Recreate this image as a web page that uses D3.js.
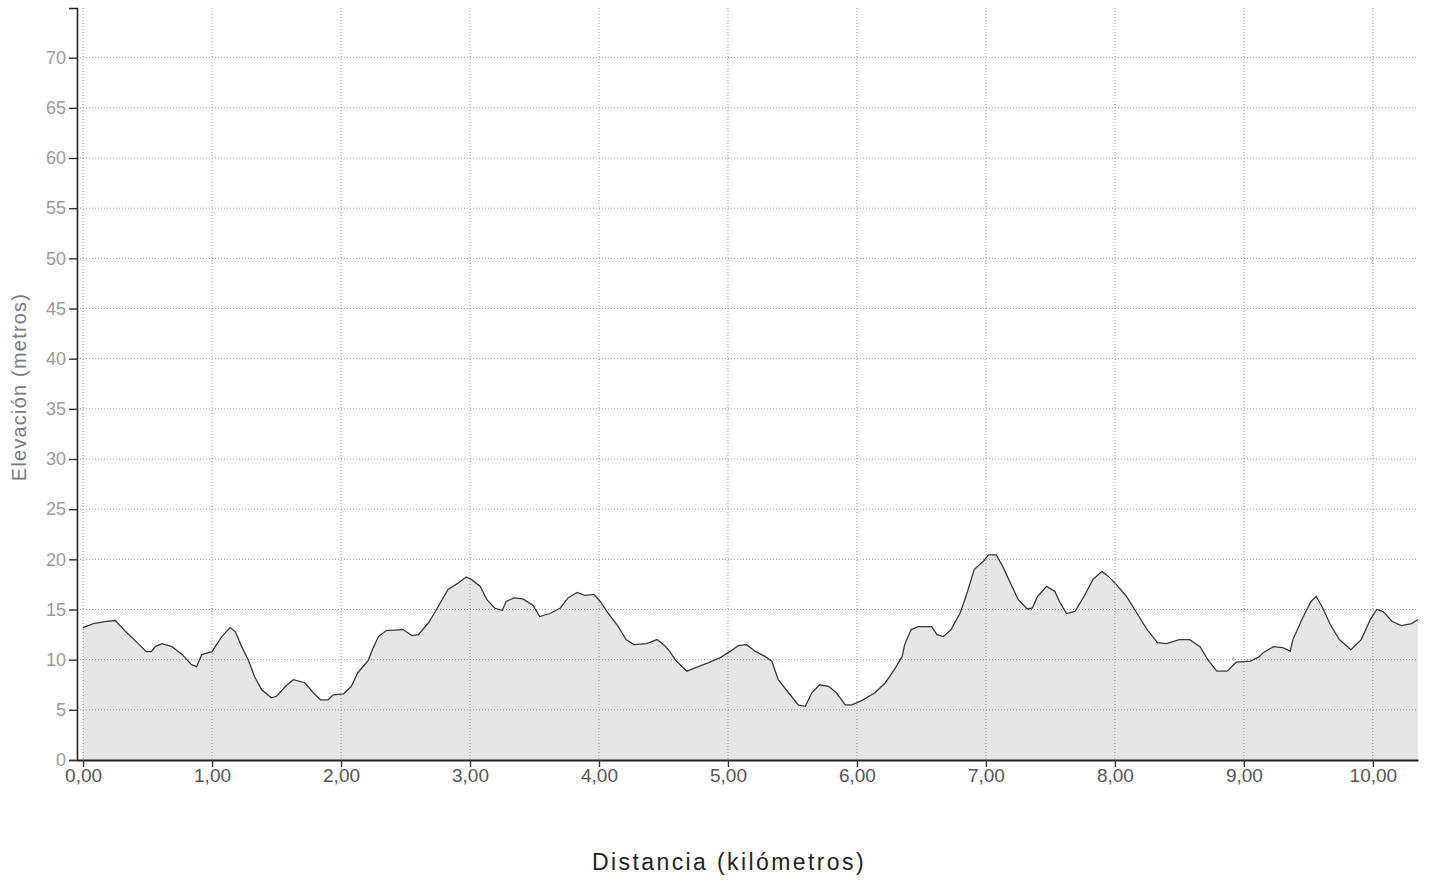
<!DOCTYPE html>
<html>
<head>
<meta charset="utf-8">
<script src="https://cdn.jsdelivr.net/npm/d3@7"></script>
<style>
    body { margin: 0; background: #fff; }
    #container { width: 1432px; height: 887px; }
</style>
</head>
<body>
<div id="container"></div>
<script>
"use strict";

// distance along the route (km)
const distKm = [
    0.00, 0.08, 0.17, 0.25, 0.33, 0.42, 0.49, 0.53, 0.56, 0.61, 0.69, 0.77, 0.84, 0.88, 0.92,
    1.00, 1.075, 1.14, 1.18, 1.23, 1.28, 1.33, 1.385, 1.46, 1.50, 1.57, 1.63, 1.72, 1.785, 1.84, 1.90, 1.94,
    2.02, 2.08, 2.13, 2.21, 2.25, 2.29, 2.35, 2.48, 2.55, 2.60, 2.68, 2.74, 2.83, 2.91, 2.97,
    3.01, 3.08, 3.13, 3.19, 3.25, 3.28, 3.34, 3.41, 3.49, 3.54, 3.62, 3.70, 3.76, 3.83, 3.89, 3.96,
    4.01, 4.07, 4.15, 4.21, 4.27, 4.37, 4.45, 4.51, 4.55, 4.59, 4.68, 4.77, 4.85, 4.94,
    5.02, 5.08, 5.145, 5.21, 5.29, 5.34, 5.39, 5.47, 5.545, 5.60, 5.65, 5.71, 5.78, 5.84, 5.91, 5.96,
    6.04, 6.14, 6.22, 6.29, 6.35, 6.37, 6.42, 6.475, 6.58, 6.62, 6.67, 6.73, 6.80, 6.85, 6.91, 6.98,
    7.02, 7.08, 7.13, 7.19, 7.25, 7.32, 7.36, 7.40, 7.47, 7.535, 7.57, 7.625, 7.69, 7.76, 7.83, 7.90, 7.95,
    8.01, 8.09, 8.17, 8.25, 8.33, 8.40, 8.50, 8.58, 8.66, 8.72, 8.79, 8.87, 8.94,
    9.05, 9.12, 9.15, 9.23, 9.30, 9.36, 9.38, 9.45, 9.52, 9.56, 9.61, 9.67, 9.74, 9.83, 9.91, 9.98,
    10.03, 10.08, 10.15, 10.22, 10.30, 10.35
];

// elevation (m)
const elevM = [
    13.2, 13.6, 13.8, 13.9, 12.8, 11.7, 10.8, 10.8, 11.3, 11.6, 11.3, 10.5, 9.5, 9.3, 10.5,
    10.8, 12.3, 13.2, 12.8, 11.3, 10.0, 8.3, 7.0, 6.2, 6.35, 7.35, 8.0, 7.7, 6.7, 6.0, 6.0, 6.5,
    6.6, 7.35, 8.7, 9.9, 11.2, 12.3, 12.9, 13.0, 12.4, 12.5, 13.7, 15.0, 17.0, 17.65, 18.25,
    18.0, 17.3, 16.0, 15.15, 14.9, 15.8, 16.15, 16.05, 15.4, 14.3, 14.6, 15.15, 16.15, 16.7, 16.4, 16.5,
    15.8, 14.65, 13.3, 12.0, 11.5, 11.6, 12.0, 11.4, 10.8, 10.0, 8.85, 9.3, 9.7, 10.2,
    10.85, 11.4, 11.5, 10.85, 10.3, 9.85, 8.0, 6.7, 5.5, 5.35, 6.7, 7.5, 7.35, 6.7, 5.5, 5.5,
    5.95, 6.7, 7.7, 9.0, 10.3, 11.5, 13.0, 13.3, 13.3, 12.5, 12.3, 13.0, 14.65, 16.5, 19.0, 19.8,
    20.45, 20.45, 19.3, 17.65, 16.0, 15.05, 15.15, 16.3, 17.3, 16.8, 15.8, 14.6, 14.8, 16.3, 18.0, 18.8, 18.3,
    17.5, 16.3, 14.65, 13.0, 11.7, 11.6, 12.0, 12.0, 11.3, 10.0, 8.85, 8.85, 9.75,
    9.85, 10.3, 10.7, 11.3, 11.2, 10.85, 12.0, 14.0, 15.8, 16.3, 15.2, 13.5, 12.0, 11.0, 12.0, 14.0,
    15.0, 14.8, 13.8, 13.4, 13.6, 14.0
];

// tick values
const xTicks = [0, 1, 2, 3, 4, 5, 6, 7, 8, 9, 10];
const yTicks = [0, 5, 10, 15, 20, 25, 30, 35, 40, 45, 50, 55, 60, 65, 70];

function drawProfile() {
    const width = 1432, height = 887;
    const left = 77, right = 1418, top = 8, bottom = 760;

    const data = distKm.map((d, i) => ({ km: d, m: elevM[i] }));

    const svg = d3.select("#container")
        .append("svg")
        .attr("width", width)
        .attr("height", height)
        .style("font-family", "'Liberation Sans', Arial, sans-serif");

    // scales
    const x = d3.scaleLinear().domain([-0.047, 10.35]).range([left, right]);
    const y = d3.scaleLinear().domain([0, 74.95]).range([bottom, top]);

    // filled area under the profile
    const area = d3.area()
        .x((d) => x(d.km))
        .y0(y(0))
        .y1((d) => y(d.m));
    svg.append("path")
        .datum(data)
        .attr("d", area)
        .attr("fill", "#e6e6e6");

    // grid lines (dotted)
    svg.append("g")
        .selectAll("line")
        .data(yTicks.filter((t) => t > 0))
        .join("line")
        .attr("x1", left)
        .attr("x2", right)
        .attr("y1", (d) => y(d))
        .attr("y2", (d) => y(d))
        .attr("stroke", "#999")
        .attr("stroke-width", 1)
        .attr("stroke-dasharray", "1,2");

    svg.append("g")
        .selectAll("line")
        .data(xTicks)
        .join("line")
        .attr("x1", (d) => x(d))
        .attr("x2", (d) => x(d))
        .attr("y1", top)
        .attr("y2", bottom)
        .attr("stroke", "#999")
        .attr("stroke-width", 1)
        .attr("stroke-dasharray", "1,2");

    // profile line
    const line = d3.line()
        .x((d) => x(d.km))
        .y((d) => y(d.m));
    svg.append("path")
        .datum(data)
        .attr("d", line)
        .attr("fill", "none")
        .attr("stroke", "#3a3a3a")
        .attr("stroke-width", 1.3);

    // y axis
    const yAxis = svg.append("g")
        .attr("transform", `translate(${left}, 0)`)
        .call(d3.axisLeft(y).tickValues(yTicks).tickSize(8).tickPadding(3));
    yAxis.select(".domain").attr("stroke", "#222").attr("stroke-width", 1.6);
    yAxis.selectAll(".tick line").attr("stroke", "#333").attr("stroke-width", 1.4);
    yAxis.selectAll("text")
        .style("font-size", "18px")
        .attr("fill", "#9a9a9a");

    // x axis
    const fmt = (d) => d3.format(".2f")(d).replace(".", ",");
    const xAxis = svg.append("g")
        .attr("transform", `translate(0, ${bottom})`)
        .call(d3.axisBottom(x).tickValues(xTicks).tickFormat(fmt).tickSize(7).tickSizeOuter(0).tickPadding(2));
    xAxis.select(".domain").attr("stroke", "#222").attr("stroke-width", 2);
    xAxis.selectAll(".tick line").attr("stroke", "#333").attr("stroke-width", 1.4);
    xAxis.selectAll("text")
        .style("font-size", "19px")
        .attr("fill", "#555");

    // axis titles
    svg.append("text")
        .attr("transform", `translate(26, 387) rotate(-90)`)
        .attr("text-anchor", "middle")
        .style("font-size", "20px")
        .style("letter-spacing", "1.2px")
        .attr("fill", "#7a7a7a")
        .text("Elevación (metros)");

    svg.append("text")
        .attr("x", 729)
        .attr("y", 870)
        .attr("text-anchor", "middle")
        .style("font-size", "23px")
        .style("letter-spacing", "2.4px")
        .attr("fill", "#222")
        .text("Distancia (kilómetros)");
}

drawProfile();
</script>
</body>
</html>
